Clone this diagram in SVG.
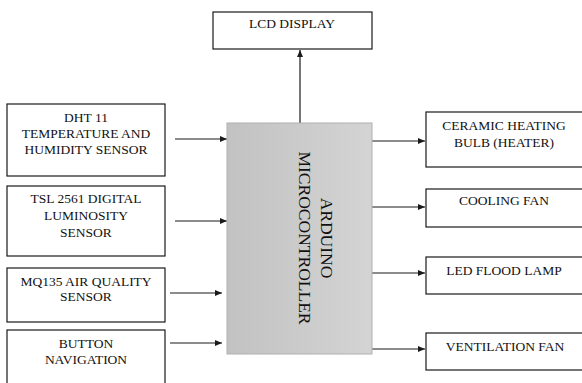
<svg xmlns="http://www.w3.org/2000/svg" width="582" height="383" viewBox="0 0 582 383">
<style>
.box{fill:#fff;stroke:#1a1a1a;stroke-width:1.2}
.t{font-family:"Liberation Serif","Times New Roman",serif;font-size:13.5px;fill:#111;text-anchor:middle}
.big{font-family:"Liberation Serif","Times New Roman",serif;font-size:17.5px;fill:#111;text-anchor:middle}
.c{stroke:#1a1a1a;stroke-width:1.2;fill:none;marker-end:url(#ah)}
</style>
<defs>
<marker id="ah" viewBox="0 0 7 6" refX="7" refY="3" markerWidth="7" markerHeight="6" markerUnits="userSpaceOnUse" orient="auto">
<path d="M0,0 L7,3 L0,6 Z" fill="#1a1a1a"/>
</marker>
<linearGradient id="g" x1="0" y1="0" x2="1" y2="0">
<stop offset="0" stop-color="#c2c2c2"/>
<stop offset="1" stop-color="#d4d4d4"/>
</linearGradient>
</defs>
<rect width="582" height="383" fill="#fff"/>
<g id="connectors">
<line class="c" x1="300" y1="123" x2="300" y2="50"/>
<line class="c" x1="175" y1="139" x2="227" y2="139"/>
<line class="c" x1="175" y1="221" x2="227" y2="221"/>
<line class="c" x1="170" y1="293" x2="222" y2="293"/>
<line class="c" x1="170" y1="343" x2="222" y2="343"/>
<line class="c" x1="372" y1="141" x2="425" y2="141"/>
<line class="c" x1="372" y1="207" x2="425" y2="207"/>
<line class="c" x1="372" y1="273" x2="425" y2="273"/>
<line class="c" x1="372" y1="349" x2="425" y2="349"/>
</g>
<g id="lcd">
<rect class="box" x="213" y="12" width="159" height="37"/>
<text class="t" x="292" y="28">LCD DISPLAY</text>
</g>
<g id="arduino">
<rect x="227" y="123" width="145" height="231" fill="url(#g)" stroke="#b0b0b0" stroke-width="1"/>
<text class="big" transform="translate(327,238) rotate(90)" y="6">ARDUINO</text>
<text class="big" transform="translate(305,238) rotate(90)" y="6">MICROCONTROLLER</text>
</g>
<g id="dht">
<rect class="box" x="7" y="104" width="158" height="72"/>
<text class="t" x="86" y="122">DHT 11</text>
<text class="t" x="86" y="138">TEMPERATURE AND</text>
<text class="t" x="86" y="154">HUMIDITY SENSOR</text>
</g>
<g id="tsl">
<rect class="box" x="7" y="186" width="158" height="70"/>
<text class="t" x="86" y="203">TSL 2561 DIGITAL</text>
<text class="t" x="86" y="220">LUMINOSITY</text>
<text class="t" x="86" y="237">SENSOR</text>
</g>
<g id="mq135">
<rect class="box" x="7" y="268" width="158" height="54"/>
<text class="t" x="86" y="286">MQ135 AIR QUALITY</text>
<text class="t" x="86" y="301">SENSOR</text>
</g>
<g id="button">
<rect class="box" x="7" y="330" width="158" height="60"/>
<text class="t" x="86" y="348">BUTTON</text>
<text class="t" x="86" y="364">NAVIGATION</text>
</g>
<g id="heater">
<rect class="box" x="426" y="112" width="160" height="55"/>
<text class="t" x="504" y="130">CERAMIC HEATING</text>
<text class="t" x="504" y="147">BULB (HEATER)</text>
</g>
<g id="cooling">
<rect class="box" x="426" y="189" width="160" height="38"/>
<text class="t" x="504" y="205">COOLING FAN</text>
</g>
<g id="led">
<rect class="box" x="426" y="257" width="160" height="37"/>
<text class="t" x="504" y="275">LED FLOOD LAMP</text>
</g>
<g id="ventilation">
<rect class="box" x="426" y="333" width="160" height="37"/>
<text class="t" x="505" y="351">VENTILATION FAN</text>
</g>
</svg>
